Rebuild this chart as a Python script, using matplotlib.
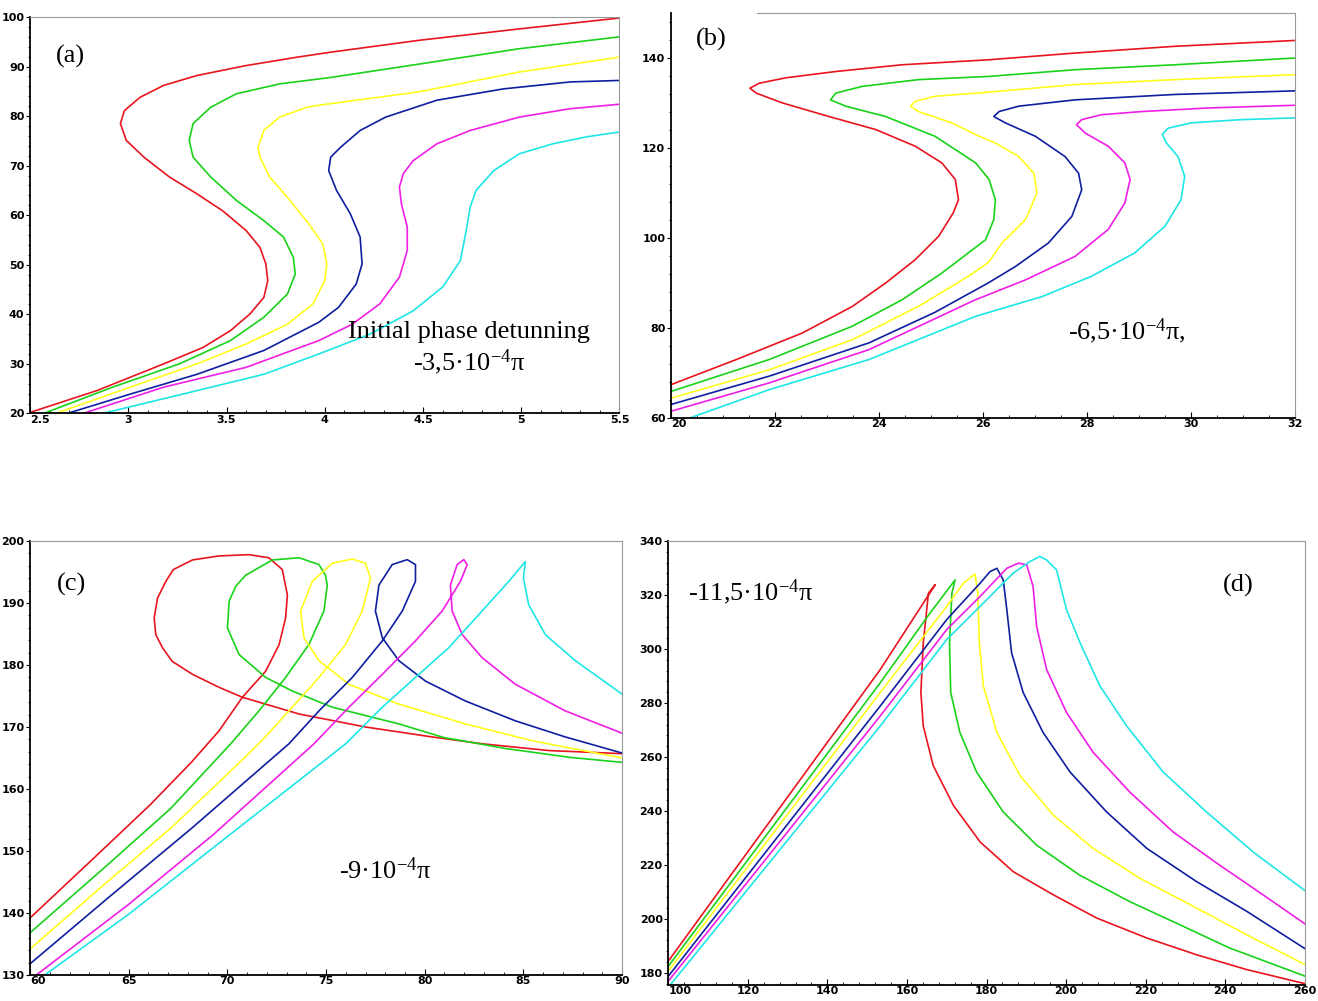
import matplotlib
matplotlib.use("Agg")
import matplotlib.pyplot as plt
from matplotlib.ticker import MultipleLocator, FuncFormatter

plt.rcParams['mathtext.fontset'] = 'custom'
plt.rcParams['mathtext.rm'] = 'Liberation Serif'
plt.rcParams['mathtext.it'] = 'Liberation Serif:italic'

COLORS = ['#e8141e', '#19d219', '#ffff1e', '#0f1ea0', '#f01ee6', '#1ee6e6']

# ---- panel (a) ----
a_red_x = [2.50, 2.84, 3.18, 3.38, 3.52, 3.62, 3.69, 3.71, 3.70, 3.67, 3.60, 3.48, 3.35, 3.21, 3.08, 2.99, 2.96, 2.98, 3.06, 3.18, 3.35, 3.60, 3.86, 4.03, 4.48, 4.99, 5.50]
a_red_y = [20.2, 24.6, 30.0, 33.3, 36.7, 40.1, 43.4, 46.8, 50.2, 53.5, 56.9, 60.9, 64.3, 67.7, 71.7, 75.1, 78.5, 81.1, 83.8, 86.2, 88.2, 90.2, 91.9, 92.9, 95.3, 97.6, 99.8]
a_green_x = [2.57, 2.92, 3.26, 3.52, 3.69, 3.81, 3.85, 3.84, 3.79, 3.69, 3.55, 3.42, 3.33, 3.31, 3.33, 3.42, 3.55, 3.77, 4.03, 4.48, 4.99, 5.50]
a_green_y = [20.0, 25.3, 30.0, 34.7, 39.4, 44.1, 48.1, 51.5, 55.6, 58.9, 63.0, 67.7, 71.7, 75.1, 78.5, 81.8, 84.5, 86.5, 87.8, 90.5, 93.6, 96.0]
a_yellow_x = [2.63, 3.01, 3.35, 3.60, 3.81, 3.94, 4.00, 4.01, 3.99, 3.92, 3.81, 3.72, 3.67, 3.66, 3.69, 3.77, 3.91, 3.97, 4.48, 4.99, 5.50]
a_yellow_y = [20.0, 25.3, 30.0, 34.0, 38.0, 42.1, 46.8, 50.2, 54.2, 58.2, 63.6, 67.7, 71.7, 73.7, 77.1, 79.8, 81.8, 82.2, 84.9, 88.9, 91.9]
a_blue_x = [2.69, 3.01, 3.35, 3.69, 3.97, 4.07, 4.16, 4.19, 4.18, 4.13, 4.06, 4.02, 4.03, 4.08, 4.18, 4.31, 4.57, 4.91, 5.25, 5.50]
a_blue_y = [20.0, 23.9, 27.9, 32.7, 38.4, 41.4, 46.1, 50.2, 55.6, 60.3, 65.0, 69.0, 71.7, 73.7, 77.1, 79.8, 83.2, 85.5, 86.9, 87.2]
a_magenta_x = [2.77, 3.18, 3.60, 3.97, 4.14, 4.28, 4.38, 4.42, 4.42, 4.39, 4.38, 4.40, 4.45, 4.57, 4.74, 4.99, 5.25, 5.50]
a_magenta_y = [20.0, 25.3, 29.3, 34.7, 38.0, 42.1, 47.5, 52.9, 57.6, 62.3, 65.7, 68.4, 71.0, 74.4, 77.1, 79.8, 81.5, 82.4]
a_cyan_x = [2.87, 3.35, 3.69, 3.97, 4.23, 4.45, 4.60, 4.69, 4.72, 4.74, 4.77, 4.86, 4.99, 5.16, 5.33, 5.50]
a_cyan_y = [20.0, 24.6, 27.9, 32.0, 36.0, 40.7, 45.5, 50.8, 56.9, 61.6, 65.0, 69.0, 72.4, 74.4, 75.8, 76.8]

# ---- panel (b) ----
b_red_x = [20, 21.26, 22.53, 23.49, 24.13, 24.7, 25.15, 25.43, 25.53, 25.47, 25.21, 24.7, 23.94, 23.04, 22.15, 21.64, 21.52, 21.7, 22.21, 23.17, 24.45, 26.1, 27.77, 29.69, 32]
b_red_y = [67.4, 73.0, 78.9, 84.8, 90.0, 95.2, 100.4, 105.6, 108.5, 113.0, 116.7, 120.4, 124.1, 127.0, 130.0, 132.2, 133.3, 134.4, 135.6, 137.0, 138.5, 139.6, 141.1, 142.6, 143.9]
b_green_x = [20, 21.89, 23.49, 24.45, 25.21, 25.72, 26.05, 26.21, 26.24, 26.12, 25.86, 25.08, 24.13, 23.36, 23.07, 23.17, 23.68, 24.76, 26.1, 27.77, 29.69, 32]
b_green_y = [65.9, 73.0, 80.4, 86.3, 92.2, 96.7, 99.6, 104.1, 108.5, 113.0, 116.7, 122.6, 127.0, 129.3, 130.7, 132.2, 133.7, 135.2, 135.9, 137.4, 138.5, 140.0]
b_yellow_x = [20, 21.89, 23.49, 24.76, 25.72, 26.1, 26.37, 26.82, 27.04, 26.98, 26.69, 26.24, 25.86, 25.4, 24.76, 24.61, 24.7, 25.08, 26.1, 27.77, 29.69, 32]
b_yellow_y = [64.4, 70.7, 77.4, 84.8, 91.5, 94.5, 98.9, 104.1, 110.0, 114.4, 118.1, 121.1, 123.0, 125.6, 128.1, 129.3, 130.4, 131.5, 132.4, 134.1, 135.2, 136.3]
b_blue_x = [20, 21.89, 23.81, 25.08, 26.1, 26.63, 27.26, 27.71, 27.9, 27.84, 27.58, 27.01, 26.43, 26.21, 26.31, 26.69, 27.77, 29.69, 32]
b_blue_y = [63.0, 69.3, 76.7, 83.5, 90.0, 93.7, 98.9, 104.8, 110.7, 114.4, 118.1, 122.6, 125.6, 127.0, 128.1, 129.3, 130.7, 131.9, 132.7]
b_magenta_x = [20, 21.89, 23.81, 25.86, 26.82, 27.77, 28.41, 28.73, 28.83, 28.73, 28.41, 27.97, 27.8, 27.9, 28.28, 29.05, 30.33, 32]
b_magenta_y = [61.5, 67.8, 75.2, 86.3, 90.7, 95.9, 101.9, 107.8, 113.0, 116.7, 120.4, 123.3, 125.2, 126.3, 127.4, 128.1, 128.9, 129.5]
b_cyan_x = [20.36, 21.89, 23.81, 25.86, 27.14, 28.09, 28.92, 29.5, 29.81, 29.88, 29.75, 29.53, 29.45, 29.56, 30.01, 30.96, 32]
b_cyan_y = [60.0, 66.3, 73.0, 82.6, 87.0, 91.5, 96.7, 102.6, 108.5, 113.7, 118.1, 121.1, 123.0, 124.4, 125.6, 126.3, 126.7]

# ---- panel (c) ----
c_red_x = [60, 62.88, 66.07, 68.2, 69.58, 70.76, 71.94, 72.62, 72.95, 73.04, 72.78, 72.1, 71.1, 69.58, 68.23, 67.26, 66.88, 66.46, 66.29, 66.37, 66.71, 67.2, 68.23, 69.58, 70.76, 73.63, 77.0, 80.37, 82.9, 86.3, 90]
c_red_y = [139.2, 147.8, 157.4, 164.4, 169.4, 174.8, 179.0, 183.3, 187.6, 191.3, 195.4, 197.3, 197.8, 197.6, 196.95, 195.4, 193.5, 190.8, 187.6, 184.9, 182.8, 180.6, 178.5, 176.4, 174.8, 172.1, 170.0, 168.4, 167.3, 166.2, 165.7]
c_green_x = [60, 63.94, 67.14, 70.17, 71.6, 72.95, 74.13, 74.89, 75.06, 74.97, 74.64, 73.63, 72.28, 70.93, 70.42, 70.09, 70.0, 70.59, 71.94, 73.29, 75.31, 78.69, 80.97, 84.16, 87.36, 90]
c_green_y = [136.8, 147.8, 156.9, 167.3, 172.6, 178.0, 183.3, 188.7, 192.9, 194.5, 196.2, 197.3, 196.95, 194.5, 192.7, 190.3, 186.0, 181.7, 178.0, 175.8, 173.2, 170.5, 168.3, 166.5, 165.1, 164.3]
c_yellow_x = [60, 63.94, 67.14, 71.6, 73.12, 74.64, 75.99, 76.83, 77.25, 77.0, 76.33, 75.31, 74.3, 73.71, 73.88, 74.64, 76.16, 78.69, 82.06, 85.43, 90]
c_yellow_y = [134.2, 145.1, 153.7, 167.3, 172.6, 178.0, 183.3, 188.7, 194.0, 196.4, 197.1, 196.4, 193.5, 188.7, 184.4, 180.7, 176.9, 173.7, 170.5, 167.8, 165.0]
c_blue_x = [60, 63.94, 68.2, 73.12, 74.64, 76.33, 77.85, 78.86, 79.53, 79.53, 79.11, 78.35, 77.68, 77.5, 77.85, 78.69, 80.04, 82.06, 84.59, 87.12, 90]
c_blue_y = [131.8, 142.4, 153.7, 167.3, 172.6, 178.0, 183.9, 188.7, 193.5, 196.2, 197.0, 196.2, 192.9, 188.7, 184.4, 180.7, 177.4, 174.2, 171.0, 168.4, 165.8]
c_magenta_x = [60.32, 65.0, 69.27, 74.39, 76.16, 77.85, 79.53, 80.88, 81.81, 82.15, 81.98, 81.64, 81.3, 81.39, 81.9, 82.9, 84.59, 87.12, 90]
c_magenta_y = [130, 141.4, 152.6, 167.3, 173.2, 178.5, 183.9, 188.7, 193.5, 196.2, 197.0, 196.2, 192.9, 188.7, 184.9, 181.2, 176.9, 172.6, 169.0]
c_cyan_x = [60.75, 65.0, 69.27, 76.0, 77.85, 79.53, 81.22, 82.9, 84.26, 85.1, 85.0, 85.27, 86.11, 87.63, 90]
c_cyan_y = [130, 139.8, 150.5, 167.3, 173.2, 178.0, 182.8, 188.7, 193.5, 196.7, 194.0, 189.7, 184.9, 180.7, 175.3]

# ---- panel (d) ----
d_red_x = [100, 153.3, 167.1, 165.4, 164.1, 163.5, 164.1, 166.6, 171.7, 178.4, 186.7, 196.8, 207.7, 220.3, 232.8, 245.4, 260]
d_red_y = [184.3, 292.4, 323.8, 320.7, 302.3, 283.9, 271.5, 256.8, 242.0, 228.5, 217.5, 208.9, 200.3, 192.9, 186.7, 181.2, 176.0]
d_green_x = [100, 153.3, 165.8, 172.1, 171.3, 170.7, 171.0, 173.3, 177.5, 184.2, 192.6, 203.4, 216.0, 228.6, 241.1, 260]
d_green_y = [182.4, 287.5, 313.3, 325.6, 320.7, 302.3, 283.9, 269.1, 254.4, 239.6, 227.3, 216.2, 206.4, 197.8, 189.2, 178.8]
d_yellow_x = [100, 153.3, 170.0, 174.2, 177.1, 177.8, 178.2, 179.2, 182.6, 188.4, 196.8, 206.8, 218.6, 232.8, 245.4, 260]
d_yellow_y = [180.6, 283.9, 315.8, 324.4, 327.8, 320.7, 302.3, 286.3, 269.1, 253.1, 238.4, 226.1, 215.0, 204.0, 194.1, 183.1]
d_blue_x = [100, 153.3, 170.0, 178.4, 180.9, 182.6, 184.2, 185.1, 186.3, 189.2, 194.2, 201.0, 210.2, 220.3, 232.8, 245.4, 260]
d_blue_y = [178.7, 278.9, 310.9, 324.4, 328.7, 329.9, 325.6, 314.6, 298.6, 283.9, 269.1, 254.4, 239.6, 226.1, 213.8, 202.8, 189.0]
d_magenta_x = [100, 153.3, 170.0, 178.4, 185.1, 188.0, 190.1, 191.7, 192.6, 195.1, 200.1, 206.8, 216.0, 226.9, 238.6, 249.5, 260]
d_magenta_y = [176.9, 275.2, 307.2, 319.5, 329.9, 331.8, 331.2, 323.2, 308.4, 292.4, 276.5, 261.7, 247.0, 232.2, 219.9, 208.9, 198.2]
d_cyan_x = [100.5, 153.3, 170.0, 178.4, 186.7, 190.9, 193.4, 195.1, 197.6, 200.1, 203.5, 208.5, 215.2, 224.4, 235.3, 247.0, 260]
d_cyan_y = [175.5, 271.5, 303.5, 315.8, 328.1, 332.4, 334.3, 333.0, 329.3, 314.6, 302.3, 286.3, 271.5, 254.4, 239.6, 224.8, 210.5]

panels = [
    # rect, xlim, ylim, xmaj, xmin, ymaj, ymin, curves
    ([0.0228, 0.587, 0.4472, 0.396], (2.5, 5.5), (20, 100), 0.5, 0.1, 10, 2,
     [(a_red_x, a_red_y), (a_green_x, a_green_y), (a_yellow_x, a_yellow_y),
      (a_blue_x, a_blue_y), (a_magenta_x, a_magenta_y), (a_cyan_x, a_cyan_y)]),
    ([0.509, 0.5824, 0.4735, 0.4046], (20, 32), (60, 150), 2, 0.5, 20, 4,
     [(b_red_x, b_red_y), (b_green_x, b_green_y), (b_yellow_x, b_yellow_y),
      (b_blue_x, b_blue_y), (b_magenta_x, b_magenta_y), (b_cyan_x, b_cyan_y)]),
    ([0.0228, 0.026, 0.4492, 0.4335], (60, 90), (130, 200), 5, 1, 10, 2,
     [(c_red_x, c_red_y), (c_green_x, c_green_y), (c_yellow_x, c_yellow_y),
      (c_blue_x, c_blue_y), (c_magenta_x, c_magenta_y), (c_cyan_x, c_cyan_y)]),
    ([0.507, 0.016, 0.483, 0.4435], (100, 260), (175.5, 340), 20, 4, 20, 4,
     [(d_red_x, d_red_y), (d_green_x, d_green_y), (d_yellow_x, d_yellow_y),
      (d_blue_x, d_blue_y), (d_magenta_x, d_magenta_y), (d_cyan_x, d_cyan_y)]),
]

fig = plt.figure(figsize=(13.18, 10.01), dpi=100)
tick_font = ['Liberation Sans Narrow', 'DejaVu Sans']
axes = []
for rect, xlim, ylim, xmaj, xmin, ymaj, ymin, curves in panels:
    ax = fig.add_axes(rect)
    for (xs, ys), col in zip(curves, COLORS):
        ax.plot(xs, ys, color=col, lw=1.2, solid_joinstyle='round')
    ax.set_xlim(*xlim)
    ax.set_ylim(*ylim)
    ax.xaxis.set_major_locator(MultipleLocator(xmaj))
    ax.xaxis.set_minor_locator(MultipleLocator(xmin))
    ax.yaxis.set_major_locator(MultipleLocator(ymaj))
    ax.yaxis.set_minor_locator(MultipleLocator(ymin))
    ax.xaxis.set_major_formatter(FuncFormatter(lambda v, p: '%g' % v))
    ax.yaxis.set_major_formatter(FuncFormatter(lambda v, p: '%g' % v))
    ax.tick_params(axis='x', which='major', direction='in', length=4, width=0.8, pad=1)
    ax.tick_params(axis='x', which='minor', direction='in', length=2, width=0.6)
    ax.tick_params(axis='y', which='major', direction='out', length=3, width=0.8, pad=1)
    ax.tick_params(axis='y', which='minor', direction='out', length=1.5, width=0.6)
    for lab in ax.get_xticklabels() + ax.get_yticklabels():
        lab.set_family(tick_font)
        lab.set_fontweight('bold')
        lab.set_fontsize(8)
    for side in ('left', 'bottom'):
        ax.spines[side].set_linewidth(1.3)
        ax.spines[side].set_color('black')
    for side in ('top', 'right'):
        ax.spines[side].set_linewidth(0.8)
        ax.spines[side].set_color('#999999')
    axes.append(ax)

serif = 'Liberation Serif'
ax_a, ax_b, ax_c, ax_d = axes
# the top frame line of (b) starts a bit right of the corner
ax_b.spines['top'].set_bounds(21.65, 32)

ax_a.text(0.068, 0.9, '(a)', transform=ax_a.transAxes, family=serif, fontsize=19, ha='center', va='center')
ax_a.text(0.745, 0.205, 'Initial phase detunning', transform=ax_a.transAxes, family=serif, fontsize=19, ha='center', va='center')
ax_a.text(0.745, 0.13, r'-3,5·10$^{-4}$π', transform=ax_a.transAxes, family=serif, fontsize=19, ha='center', va='center')
ax_b.text(0.064, 0.935, '(b)', transform=ax_b.transAxes, family=serif, fontsize=19, ha='center', va='center')
ax_b.text(0.73, 0.215, r'-6,5·10$^{-4}$π,', transform=ax_b.transAxes, family=serif, fontsize=19, ha='center', va='center')
ax_c.text(0.07, 0.9, '(c)', transform=ax_c.transAxes, family=serif, fontsize=19, ha='center', va='center')
ax_c.text(0.6, 0.24, r'-9·10$^{-4}$π', transform=ax_c.transAxes, family=serif, fontsize=19, ha='center', va='center')
ax_d.text(0.895, 0.9, '(d)', transform=ax_d.transAxes, family=serif, fontsize=19, ha='center', va='center')
ax_d.text(0.13, 0.885, r'-11,5·10$^{-4}$π', transform=ax_d.transAxes, family=serif, fontsize=19, ha='center', va='center')

# the first x label of each panel sits to the right of the corner, clear of the y label
fig.canvas.draw()
for ax in axes:
    x0 = ax.get_xlim()[0]
    for tick in ax.xaxis.get_major_ticks():
        if abs(tick.get_loc() - x0) < 1e-9:
            tick.label1.set_horizontalalignment('left')

fig.savefig('out.png', dpi=100)
